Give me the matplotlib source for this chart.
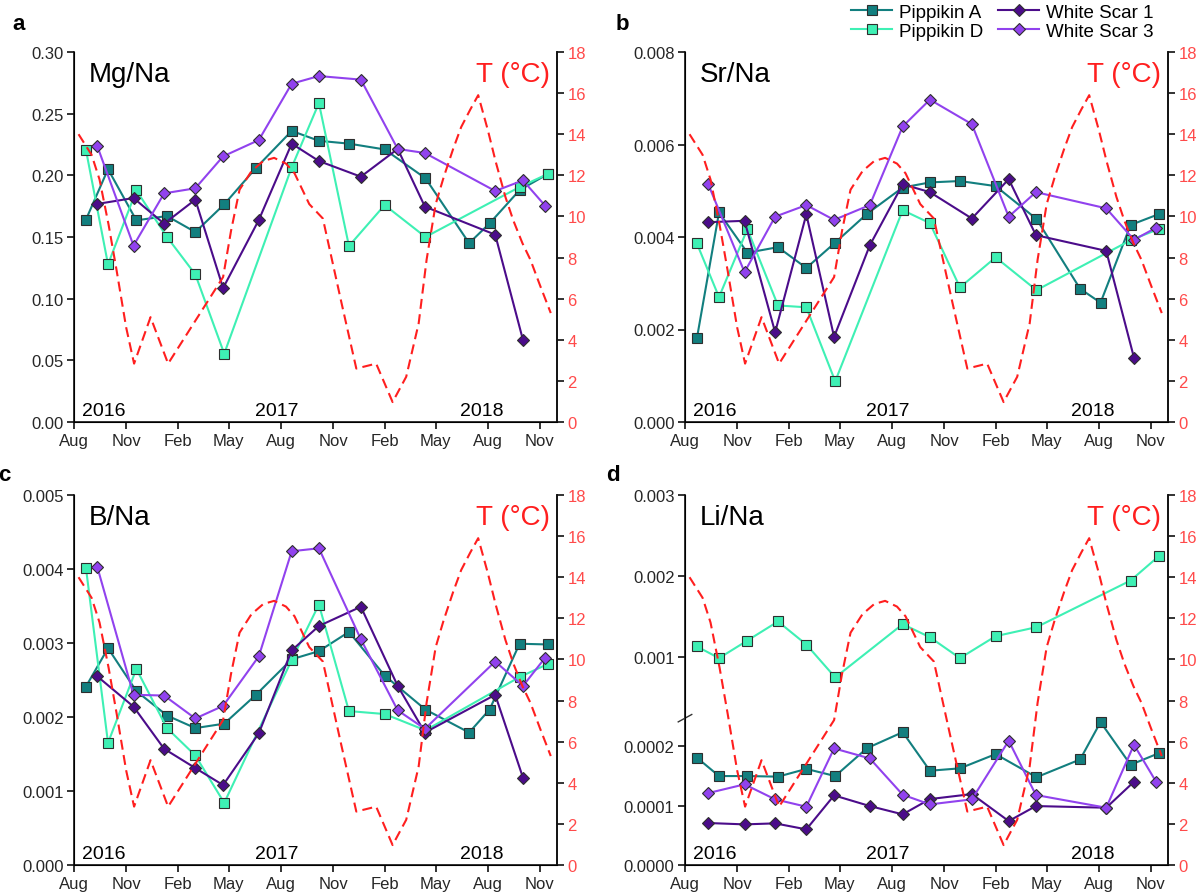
import numpy as np
import matplotlib
matplotlib.use("Agg")
import matplotlib.pyplot as plt
import matplotlib.dates as mdates
from matplotlib.ticker import FixedLocator, FixedFormatter
from matplotlib.lines import Line2D

plt.rcParams['font.family'] = ['Liberation Sans', 'DejaVu Sans']

# ---------------- data ----------------
pipA_dates = ["2016-08-22", "2016-09-30", "2016-11-19", "2017-01-12", "2017-03-03", "2017-04-23",
              "2017-06-18", "2017-08-20", "2017-10-07", "2017-11-29", "2018-01-31", "2018-04-13",
              "2018-06-29", "2018-08-04", "2018-09-26", "2018-11-16"]
pipD_dates = ["2016-08-22", "2016-09-30", "2016-11-19", "2017-01-12", "2017-03-03", "2017-04-23",
              "2017-08-20", "2017-10-07", "2017-11-29", "2018-01-31", "2018-04-13",
              "2018-09-26", "2018-11-16"]
ws_dates = ["2016-09-11", "2016-11-14", "2017-01-07", "2017-03-03", "2017-04-21", "2017-06-23",
            "2017-08-20", "2017-10-07", "2017-12-20", "2018-02-23", "2018-04-12", "2018-08-14",
            "2018-10-02", "2018-11-10"]

pipA_mg = [0.164, 0.205, 0.1635, 0.167, 0.154, 0.1765, 0.206, 0.236, 0.228, 0.2257, 0.221, 0.1976,
           0.145, 0.161, 0.188, 0.2014]
pipA_sr = [0.00181, 0.00453, 0.00366, 0.00378, 0.00333, 0.00388, 0.00450, 0.00507, 0.00518, 0.00521,
           0.00510, 0.00439, 0.00288, 0.00258, 0.00426, 0.00450]
pipA_b = [0.00241, 0.00293, 0.00235, 0.00202, 0.00185, 0.00191, 0.00230, 0.00278, 0.00289, 0.00315,
          0.00256, 0.00210, 0.00179, 0.00210, 0.00299, 0.00298]
pipA_li = [0.000181, 0.000150, 0.000150, 0.000149, 0.000162, 0.000150, 0.000197, 0.000224, 0.000159,
           0.000163, 0.000187, 0.000148, 0.000178, 0.000241, 0.000169, 0.000189]

pipD_mg = [0.2208, 0.1278, 0.1878, 0.150, 0.1197, 0.0554, 0.2065, 0.2586, 0.1427, 0.1759, 0.150,
           0.1905, 0.2014]
pipD_sr = [0.00386, 0.00270, 0.00417, 0.00252, 0.00248, 0.00088, 0.00458, 0.00430, 0.00291, 0.00356,
           0.00285, 0.00393, 0.00418]
pipD_b = [0.00402, 0.00165, 0.00265, 0.00185, 0.00148, 0.00084, 0.00277, 0.00352, 0.00208, 0.00204,
          0.00182, 0.00254, 0.00272]
pipD_li = [0.001132, 0.000988, 0.001205, 0.00144, 0.001156, 0.00075, 0.001407, 0.001246, 0.000988,
           0.001259, 0.00137, 0.001945, 0.002253]

ws1_mg = [0.1768, 0.1816, 0.1608, 0.1803, 0.1086, 0.1638, 0.2257, 0.2116, 0.1989, 0.2214, 0.1746,
          0.1519, 0.0665]
ws1_sr = [0.00432, 0.00435, 0.00194, 0.00449, 0.00184, 0.00382, 0.00514, 0.00497, 0.00440, 0.00525,
          0.00404, 0.00370, 0.00139]
ws1_b = [0.00255, 0.00214, 0.00157, 0.00131, 0.00108, 0.00178, 0.00290, 0.00323, 0.00349, 0.00242,
         0.00179, 0.00230, 0.00118]
ws1_li = [0.0000708, 0.0000685, 0.0000702, 0.0000601, 0.0001174, 0.0000994, 0.0000854, 0.0001112,
          0.0001196, 0.0000741, 0.0000994, 0.0000966, 0.0001404]

ws3_mg = [0.2238, 0.143, 0.1854, 0.1895, 0.2154, 0.2286, 0.2743, 0.2805, 0.2776, 0.2214, 0.2181,
          0.1873, 0.1959, 0.1754]
ws3_sr = [0.00514, 0.00324, 0.00444, 0.00469, 0.00437, 0.00469, 0.00639, 0.00697, 0.00644, 0.00444,
          0.00497, 0.00462, 0.00394, 0.00420]
ws3_b = [0.00403, 0.00230, 0.00229, 0.00198, 0.00215, 0.00282, 0.00424, 0.00428, 0.00305, 0.00209,
         0.00184, 0.00275, 0.00242, 0.00280]
ws3_li = [0.0001213, 0.000136, 0.0001107, 0.0000983, 0.0001966, 0.0001797, 0.0001185, 0.0001022,
          0.0001107, 0.0002095, 0.000118, 0.0000966, 0.0002028, 0.0001404]

temp_dates = ["2016-08-09", "2016-09-01", "2016-09-15", "2016-10-01", "2016-10-15", "2016-11-01",
              "2016-11-15", "2016-12-14", "2017-01-14", "2017-04-21", "2017-05-05", "2017-05-20",
              "2017-06-10", "2017-07-01", "2017-07-20", "2017-08-10", "2017-08-25", "2017-09-20",
              "2017-10-14", "2017-11-15", "2017-12-12", "2018-01-16", "2018-02-14", "2018-03-10",
              "2018-04-01", "2018-04-15", "2018-05-01", "2018-05-15", "2018-06-01", "2018-06-15",
              "2018-07-01", "2018-07-15", "2018-08-01", "2018-08-15", "2018-09-01", "2018-09-15",
              "2018-10-01", "2018-10-15", "2018-11-01", "2018-11-20"]
temp_vals = [14.0, 13.0, 11.8, 9.6, 7.4, 4.6, 2.84, 5.1, 2.84, 7.05, 9.3, 11.3, 12.2, 12.7, 12.85,
             12.57, 12.1, 10.6, 9.9, 5.9, 2.6, 2.84, 0.97, 2.2, 4.8, 7.9, 10.6, 11.9, 13.3, 14.35,
             15.2, 15.9, 14.2, 12.65, 10.95, 9.8, 8.7, 7.9, 6.65, 5.3]

series_names = ["Pippikin A", "Pippikin D", "White Scar 1", "White Scar 3"]
year_labels = ["2016", "2017", "2018"]
year_pos = ["2016-09-23", "2017-07-24", "2018-07-21"]

# ---------------- styling ----------------
C_PA = "#127f7f"
C_PD = "#3ef0b4"
C_W1 = "#4b0c8a"
C_W3 = "#9142ee"
C_T = "#ff1f1f"
C_TICK_R = "#ff4a4a"
TXT = "#262626"
EDGE = "#2e2e2e"

styles = {
    "Pippikin A": dict(color=C_PA, marker="s", ms=6.6),
    "Pippikin D": dict(color=C_PD, marker="s", ms=6.6),
    "White Scar 1": dict(color=C_W1, marker="D", ms=6.2),
    "White Scar 3": dict(color=C_W3, marker="D", ms=6.2),
}

to_dt = lambda lst: np.array(lst, dtype="datetime64[D]")

W, H = 1200, 895
fig = plt.figure(figsize=(W / 100, H / 100), dpi=100)


def frac_rect(x0, y0, x1, y1):
    return [x0 / W, 1 - y1 / H, (x1 - x0) / W, (y1 - y0) / H]


def draw_series(ax, name, dates, vals):
    st = styles[name]
    ax.plot(to_dt(dates), vals, color=st["color"], lw=1.5, marker=st["marker"], ms=st["ms"],
            mfc=st["color"], mec=EDGE, mew=0.8, zorder=3)


def setup_panel(rect, letter, letter_xy, title, ylim, yticks, ylabels, data, scale=None):
    ax = fig.add_axes(rect)
    if scale is not None:
        ax.set_yscale("function", functions=scale)
    for name, dates, vals in data:
        draw_series(ax, name, dates, vals)
    ax.set_xlim(np.datetime64("2016-08-01"), np.datetime64("2018-12-01"))
    ax.set_ylim(*ylim)
    ax.yaxis.set_major_locator(FixedLocator(yticks))
    ax.yaxis.set_major_formatter(FixedFormatter(ylabels))
    ax.yaxis.set_minor_locator(FixedLocator([]))
    ax.xaxis.set_major_locator(mdates.MonthLocator(bymonth=[2, 5, 8, 11]))
    ax.xaxis.set_major_formatter(mdates.DateFormatter("%b"))
    ax.spines["top"].set_visible(False)
    for s in ("left", "bottom", "right"):
        ax.spines[s].set_linewidth(1.2)
        ax.spines[s].set_color("#111111")
    ax.tick_params(axis="both", direction="out", length=5, width=1.2, color="#111111",
                   labelsize=12, labelcolor=TXT)
    ax.tick_params(axis="y", pad=2.5)
    ax.tick_params(axis="x", pad=3.0)
    ax.text(0.03, 0.975, title, transform=ax.transAxes, fontsize=20, color="black",
            ha="left", va="top")
    for lab, pos in zip(year_labels, year_pos):
        ax.text(np.datetime64(pos), 0.018, lab, transform=ax.get_xaxis_transform(),
                fontsize=14, color="black", ha="center", va="baseline")
    fig.text(letter_xy[0] / W, 1 - letter_xy[1] / H, letter, fontsize=16, fontweight="bold",
             ha="center", va="baseline")

    tx = ax.twinx()
    tx.plot(to_dt(temp_dates), temp_vals, color=C_T, lw=1.5, dashes=(4.8, 2.6), zorder=4)
    tx.set_ylim(0, 18)
    tx.set_yticks(np.arange(0, 19, 2))
    tx.spines["top"].set_visible(False)
    tx.spines["right"].set_linewidth(1.2)
    tx.spines["right"].set_color("#111111")
    tx.tick_params(axis="y", direction="out", length=5, width=1.2, color="#111111",
                   labelsize=12, labelcolor=C_TICK_R, pad=2.5)
    tx.text(0.985, 0.975, "T (\u00b0C)", transform=tx.transAxes, fontsize=20, color=C_T,
            ha="right", va="top")
    return ax


# Panel a: Mg/Na
setup_panel(frac_rect(74, 53, 557, 423), "a", (19, 30), "Mg/Na", (0, 0.30),
            np.arange(0, 0.301, 0.05), ["%.2f" % v for v in np.arange(0, 0.301, 0.05)],
            [("Pippikin A", pipA_dates, pipA_mg), ("Pippikin D", pipD_dates, pipD_mg),
             ("White Scar 1", ws_dates[:13], ws1_mg), ("White Scar 3", ws_dates, ws3_mg)])

# Panel b: Sr/Na
setup_panel(frac_rect(685, 53, 1168, 423), "b", (622, 30), "Sr/Na", (0, 0.008),
            np.arange(0, 0.0081, 0.002), ["%.3f" % v for v in np.arange(0, 0.0081, 0.002)],
            [("Pippikin A", pipA_dates, pipA_sr), ("Pippikin D", pipD_dates, pipD_sr),
             ("White Scar 1", ws_dates[:13], ws1_sr), ("White Scar 3", ws_dates, ws3_sr)])

# Panel c: B/Na
setup_panel(frac_rect(74, 496, 557, 866), "c", (4, 481), "B/Na", (0, 0.005),
            np.arange(0, 0.0051, 0.001), ["%.3f" % v for v in np.arange(0, 0.0051, 0.001)],
            [("Pippikin A", pipA_dates, pipA_b), ("Pippikin D", pipD_dates, pipD_b),
             ("White Scar 1", ws_dates[:13], ws1_b), ("White Scar 3", ws_dates, ws3_b)])

# Panel d: Li/Na on a broken (piecewise linear) axis
BRK = 0.0002476
K_LO, K_HI = 7.313, 1.0


def fwd(v):
    v = np.asarray(v, dtype=float)
    return np.where(v <= BRK, v * K_LO, BRK * K_LO + (v - BRK) * K_HI)


def inv(h):
    h = np.asarray(h, dtype=float)
    return np.where(h <= BRK * K_LO, h / K_LO, BRK + (h - BRK * K_LO) / K_HI)


axd = setup_panel(frac_rect(685, 496, 1168, 866), "d", (613, 481), "Li/Na", (0, 0.003),
                  [0, 0.0001, 0.0002, 0.001, 0.002, 0.003],
                  ["0.0000", "0.0001", "0.0002", "0.001", "0.002", "0.003"],
                  [("Pippikin A", pipA_dates, pipA_li), ("Pippikin D", pipD_dates, pipD_li),
                   ("White Scar 1", ws_dates[:13], ws1_li), ("White Scar 3", ws_dates, ws3_li)],
                  scale=(fwd, inv))
yb = float(fwd(BRK) / fwd(0.003))
axd.plot([-0.014, 0.014], [yb - 0.01, yb + 0.01], transform=axd.transAxes, color="#333333",
         lw=1.0, clip_on=False, zorder=5)

# Legend
handles = [Line2D([], [], color=styles[n]["color"], lw=1.5, marker=styles[n]["marker"],
                  ms=styles[n]["ms"], mfc=styles[n]["color"], mec=EDGE, mew=0.8)
           for n in series_names]
fig.legend(handles, series_names, ncol=2, loc="upper left", bbox_to_anchor=(851 / W, 0.995),
           frameon=False, fontsize=13.5, handlelength=2.2, handletextpad=0.35,
           columnspacing=0.8, labelspacing=0.1, borderpad=0, borderaxespad=0)

fig.savefig("out.png", dpi=100)
